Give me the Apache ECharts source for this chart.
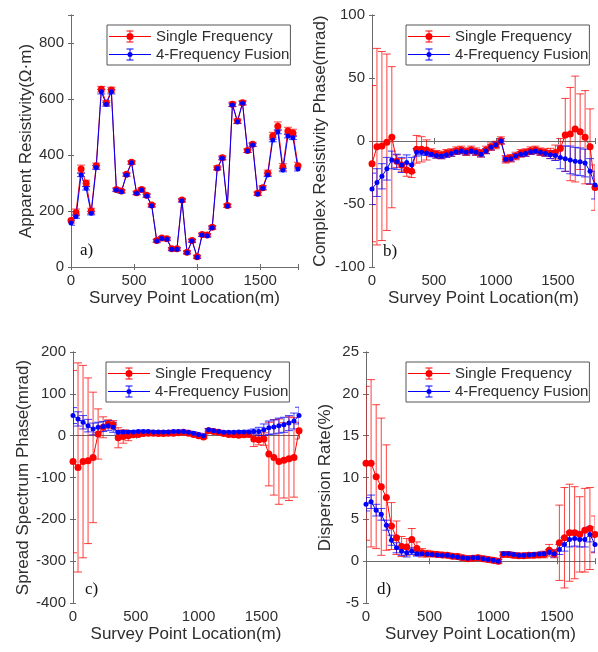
<!DOCTYPE html>
<html>
<head>
<meta charset="utf-8">
<script src="https://cdn.jsdelivr.net/npm/echarts@6/dist/echarts.min.js"></script>
<style>
  html, body { margin: 0; padding: 0; background: #fff; }
  #chart { width: 598px; height: 652px; }
</style>
</head>
<body>
<div id="chart"></div>
<script>
// survey point locations (m)
const locations = [0, 40, 80, 120, 160, 200, 240, 280, 320, 360, 400, 440, 480, 520, 560, 600,
  640, 680, 720, 760, 800, 840, 880, 920, 960, 1000, 1040, 1080, 1120, 1160, 1200, 1240,
  1280, 1320, 1360, 1400, 1440, 1480, 1520, 1560, 1600, 1640, 1680, 1720, 1760, 1800]

const seriesNames = ['Single Frequency', '4-Frequency Fusion']

// a) apparent resistivity (Ω·m)
const resSingle = [166, 195, 350, 299, 200, 362, 635, 586, 632, 277, 271, 331, 374, 265, 277, 256,
  221, 95, 104, 101, 65, 65, 239, 53, 95, 37, 116, 114, 142, 354, 390, 220,
  581, 521, 587, 416, 438, 263, 283, 336, 468, 503, 357, 486, 479, 362]
const resSingleErr = [9, 12, 14, 11, 10, 9, 10, 8, 10, 6, 6, 6, 6, 6, 6, 6,
  6, 5, 5, 5, 5, 5, 6, 5, 5, 5, 6, 6, 6, 7, 7, 6,
  8, 8, 8, 7, 7, 7, 8, 10, 13, 15, 12, 13, 13, 12]
const resFusion = [157, 180, 329, 281, 192, 355, 626, 581, 626, 275, 269, 329, 372, 263, 275, 254,
  219, 93, 102, 99, 63, 63, 237, 51, 93, 35, 114, 112, 140, 352, 388, 218,
  579, 519, 585, 414, 436, 261, 281, 329, 454, 483, 346, 468, 462, 350]
const resFusionErr = [8, 6, 6, 6, 6, 7, 8, 7, 8, 5, 5, 5, 5, 5, 5, 5,
  5, 5, 5, 5, 5, 5, 5, 5, 5, 5, 5, 5, 5, 5, 5, 5,
  6, 6, 6, 5, 5, 5, 5, 6, 7, 7, 6, 7, 7, 7]

// b) complex resistivity phase (mrad)
const phaseSingle = [-18, -4.5, -4, -1, 3, -16, -19, -23, -24, -6.6, -6.6, -7.1, -9.2, -10.6, -11.1, -9.8,
  -9.2, -7.7, -7.1, -8.5, -7.1, -8.5, -9.8, -7.1, -4.5, -3.2, 0.3, -14.5, -13.7, -11.9, -9.8, -9.2,
  -7.7, -7.1, -8.5, -9.2, -9.8, -9.2, -6, 4.8, 5.5, 9.5, 7.4, 3, -4.5, -37]
const phaseSingleErr = [62, 78, 75, 70, 56, 5, 5, 5, 5, 11, 10, 8, 3, 3, 3, 3,
  3, 3, 3, 3, 3, 3, 3, 3, 3, 3, 3, 3, 3, 3, 3, 3,
  3, 3, 3, 3, 4, 6, 8, 29, 37, 42, 30, 37, 30, 18]
const phaseFusion = [-38, -33, -28, -22, -15, -16.5, -19, -17, -19, -9, -9, -9.5, -10.5, -11.5, -12, -11,
  -10, -8.5, -8, -9, -8, -9, -10.5, -8, -5, -3, 0, -14.5, -14, -12, -10.5, -10,
  -8.5, -8, -9, -10, -11, -11.5, -13, -14, -15, -16, -16.5, -17.5, -24, -35]
const phaseFusionErr = [12.5, 11, 10, 9, 7, 6, 6, 6, 6, 3, 2, 2, 2, 2, 2, 2,
  2, 2, 2, 2, 2, 2, 2, 2, 2, 2, 2, 2, 2, 2, 2, 2,
  2, 2, 2, 2, 3, 4, 9, 10, 11, 11, 11, 11, 10, 11]

// c) spread spectrum phase (mrad)
const spreadSingle = [-62, -76, -62, -60, -52, 4, 20, 28, 26, -5, -2, 0, 2, 3, 5, 6,
  6, 5, 5, 6, 6, 7, 8, 6, 3, 0, -3, 12, 10, 8, 5, 3,
  2, 1, 2, 3, -8, -10, -8, -44, -52, -62, -59, -55, -52, 12]
const spreadSingleErr = [218, 250, 230, 198, 156, 60, 25, 10, 10, 24, 16, 12, 4, 4, 4, 4,
  4, 4, 4, 4, 4, 4, 4, 4, 4, 4, 4, 4, 4, 4, 4, 4,
  4, 4, 4, 6, 18, 12, 15, 76, 90, 102, 90, 100, 95, 20]
const spreadFusion = [48, 40, 32, 24, 16, 20, 22, 24, 20, 8, 9, 9, 9, 10, 10, 10,
  9, 9, 9, 9, 10, 10, 10, 8, 6, 3, 0, 14, 12, 10, 8, 8,
  8, 9, 9, 9, 10, 10, 14, 19, 21, 24, 26, 30, 35, 48]
const spreadFusionErr = [19, 17, 16, 15, 14, 12, 12, 12, 12, 4, 3, 3, 3, 3, 3, 3,
  3, 3, 3, 3, 3, 3, 3, 3, 3, 3, 3, 3, 3, 3, 3, 3,
  3, 3, 3, 4, 6, 10, 14, 16, 17, 18, 18, 18, 19, 20]

// d) dispersion rate (%)
const dispSingle = [11.7, 11.7, 10.1, 8.9, 7.6, 4.2, 2.8, 1.75, 1.7, 2.6, 1.5, 1.0, 0.9, 0.85, 0.8, 0.75,
  0.7, 0.6, 0.55, 0.4, 0.3, 0.35, 0.4, 0.3, 0.2, 0.1, 0.0, 0.8, 0.8, 0.7, 0.65, 0.65,
  0.7, 0.7, 0.75, 0.8, 1.3, 0.9, 2.2, 2.8, 3.4, 3.4, 3.2, 3.7, 3.9, 3.2]
const dispSingleErr = [9.2, 10, 8.6, 8.2, 6.3, 2.8, 2, 1.2, 1, 1.3, 0.8, 0.5, 0.4, 0.3, 0.3, 0.3,
  0.3, 0.3, 0.3, 0.3, 0.3, 0.3, 0.3, 0.3, 0.3, 0.3, 0.3, 0.3, 0.3, 0.3, 0.3, 0.3,
  0.3, 0.3, 0.3, 0.4, 0.7, 0.5, 4.5, 6, 5.8, 5.5, 4.5, 5, 4.9, 2.2]
const dispFusion = [6.8, 7.1, 6.1, 5.6, 4.3, 2.5, 1.6, 1.2, 1.0, 1.2, 0.9, 0.9, 0.85, 0.8, 0.75, 0.7,
  0.7, 0.6, 0.5, 0.4, 0.35, 0.4, 0.4, 0.3, 0.2, 0.1, 0.0, 0.9, 0.9, 0.8, 0.7, 0.7,
  0.75, 0.8, 0.85, 0.9, 1.1, 0.9, 1.4, 2.0, 2.6, 2.7, 2.6, 2.6, 3.2, 2.0]
const dispFusionErr = [0.8, 0.8, 0.7, 0.7, 0.6, 0.6, 0.6, 0.5, 0.5, 0.4, 0.3, 0.2, 0.2, 0.2, 0.2, 0.2,
  0.2, 0.2, 0.2, 0.2, 0.2, 0.2, 0.2, 0.2, 0.2, 0.2, 0.2, 0.2, 0.2, 0.2, 0.2, 0.2,
  0.2, 0.2, 0.2, 0.2, 0.3, 0.4, 0.6, 0.8, 0.9, 0.9, 0.9, 0.9, 0.9, 0.9]

const RED = '#ff0000'
const BLUE = '#0000ff'
const TEXT = '#2e2e2e'
const FRAME = '#6b6b6b'
const FONT = '"Liberation Sans", Arial, sans-serif'

const panels = [
  { grid: { left: 71, top: 15, width: 227, height: 252 }, y: [0, 900, 200], name: 'Apparent Resistivity(Ω·m)', gap: 36,
    single: resSingle, singleErr: resSingleErr, fusion: resFusion, fusionErr: resFusionErr,
    tag: 'a)', tagPos: [80, 242], legend: [107, 25] },
  { grid: { left: 372, top: 15, width: 226, height: 252 }, y: [-100, 100, 50], name: 'Complex Resistivity Phase(mrad)', gap: 43,
    single: phaseSingle, singleErr: phaseSingleErr, fusion: phaseFusion, fusionErr: phaseFusionErr,
    tag: 'b)', tagPos: [383, 243], legend: [406, 25] },
  { grid: { left: 73, top: 352, width: 226, height: 251 }, y: [-400, 200, 100], name: 'Spread Spectrum Phase(mrad)', gap: 38,
    single: spreadSingle, singleErr: spreadSingleErr, fusion: spreadFusion, fusionErr: spreadFusionErr,
    tag: 'c)', tagPos: [85, 581], legend: [106, 362] },
  { grid: { left: 366, top: 352, width: 232, height: 251 }, y: [-5, 25, 5], name: 'Dispersion Rate(%)', gap: 32,
    single: dispSingle, singleErr: dispSingleErr, fusion: dispFusion, fusionErr: dispFusionErr,
    tag: 'd)', tagPos: [377, 581], legend: [406, 362] },
]

// legend glyph: line + errorbar + marker, drawn in a 42x12 box
const redIcon = 'path://M0,5.5H42V6.5H0Z M20.5,0H21.5V12H20.5Z M17.5,0H24.5V1H17.5Z M17.5,11H24.5V12H17.5Z M24.5,6A3.5,3.5,0,1,1,17.5,6A3.5,3.5,0,1,1,24.5,6Z'
const blueIcon = 'path://M0,5.5H42V6.5H0Z M20.5,0H21.5V12H20.5Z M17.5,0H24.5V1H17.5Z M17.5,11H24.5V12H17.5Z M23.5,6A2.5,2.5,0,1,1,18.5,6A2.5,2.5,0,1,1,23.5,6Z'

function errorSeries(name, idx, values, errs, color, cap) {
  return {
    name,
    type: 'custom',
    xAxisIndex: idx,
    yAxisIndex: idx,
    itemStyle: { color },
    data: values.map((v, i) => [locations[i], v, errs[i]]),
    encode: { x: 0, y: 1 },
    clip: true,
    renderItem(params, api) {
      const x = api.value(0)
      const y = api.value(1)
      const e = api.value(2)
      const lo = api.coord([x, y - e])
      const hi = api.coord([x, y + e])
      const style = { stroke: color, lineWidth: 1, opacity: 0.75 }
      return {
        type: 'group',
        children: [
          { type: 'line', shape: { x1: lo[0], y1: lo[1], x2: hi[0], y2: hi[1] }, style },
          { type: 'line', shape: { x1: lo[0] - cap, y1: lo[1], x2: lo[0] + cap, y2: lo[1] }, style },
          { type: 'line', shape: { x1: hi[0] - cap, y1: hi[1], x2: hi[0] + cap, y2: hi[1] }, style },
        ],
      }
    },
  }
}

function lineSeries(name, idx, values, color, size) {
  return {
    name,
    type: 'line',
    xAxisIndex: idx,
    yAxisIndex: idx,
    data: values.map((v, i) => [locations[i], v]),
    symbol: 'circle',
    symbolSize: size,
    itemStyle: { color, borderWidth: 0 },
    lineStyle: { color, width: 1 },
  }
}

const xAxis = []
const yAxis = []
const series = []
const legend = []
const graphic = []

panels.forEach((p, i) => {
  xAxis.push({
    type: 'value', gridIndex: i, min: 0, max: 1800, interval: 500,
    name: 'Survey Point Location(m)', nameLocation: 'middle', nameGap: 23,
    nameTextStyle: { color: TEXT, fontSize: 17, fontFamily: FONT },
    axisLine: { lineStyle: { color: FRAME } },
    axisTick: { inside: true, length: 3, lineStyle: { color: FRAME } },
    axisLabel: { color: TEXT, fontSize: 15, fontFamily: FONT, margin: 6,
      formatter: (v) => (v % 500 === 0 ? String(v) : '') },
    splitLine: { show: false },
  })
  yAxis.push({
    type: 'value', gridIndex: i, min: p.y[0], max: p.y[1], interval: p.y[2],
    name: p.name, nameLocation: 'middle', nameGap: p.gap,
    nameTextStyle: { color: TEXT, fontSize: 17, fontFamily: FONT },
    axisLine: { lineStyle: { color: FRAME } },
    axisTick: { inside: true, length: 3, lineStyle: { color: FRAME } },
    axisLabel: { color: TEXT, fontSize: 15, fontFamily: FONT, margin: 7,
      formatter: (v) => ((v - p.y[0]) % p.y[2] === 0 ? String(v) : '') },
    splitLine: { show: false },
  })
  series.push(errorSeries(seriesNames[0], i, p.single, p.singleErr, RED, 4))
  series.push(lineSeries(seriesNames[0], i, p.single, RED, 7))
  series.push(errorSeries(seriesNames[1], i, p.fusion, p.fusionErr, BLUE, 4))
  series.push(lineSeries(seriesNames[1], i, p.fusion, BLUE, 5))
  legend.push({
    left: p.legend[0], top: p.legend[1], orient: 'vertical',
    itemWidth: 42, itemHeight: 12, itemGap: 3,
    padding: [4, 1, 3, 2],
    borderColor: '#555', borderWidth: 1, backgroundColor: '#fff',
    selectedMode: false,
    itemStyle: { borderWidth: 0 },
    textStyle: { color: TEXT, fontSize: 15, fontFamily: FONT },
    data: [{ name: seriesNames[0], icon: redIcon }, { name: seriesNames[1], icon: blueIcon }],
  })
  graphic.push({
    type: 'text', left: p.tagPos[0], top: p.tagPos[1], z: 100,
    style: { text: p.tag, fill: '#111', font: '17px "Liberation Serif", "Times New Roman", serif' },
  })
})

// top and right box edges with inner ticks (MATLAB "box on")
panels.forEach((p, i) => {
  xAxis.push({
    type: 'value', gridIndex: i, position: 'top', min: 0, max: 1800, interval: 500,
    axisLine: { lineStyle: { color: FRAME } },
    axisTick: { inside: true, length: 3, lineStyle: { color: FRAME } },
    axisLabel: { show: false }, splitLine: { show: false },
  })
  yAxis.push({
    type: 'value', gridIndex: i, position: 'right', min: p.y[0], max: p.y[1], interval: p.y[2],
    axisLine: { lineStyle: { color: FRAME } },
    axisTick: { inside: true, length: 3, lineStyle: { color: FRAME } },
    axisLabel: { show: false }, splitLine: { show: false },
  })
})

const chart = echarts.init(document.getElementById('chart'))
chart.setOption({
  animation: false,
  backgroundColor: '#fff',
  textStyle: { fontFamily: FONT },
  grid: panels.map((p) => p.grid),
  xAxis,
  yAxis,
  legend,
  graphic,
  series,
})
</script>
</body>
</html>
